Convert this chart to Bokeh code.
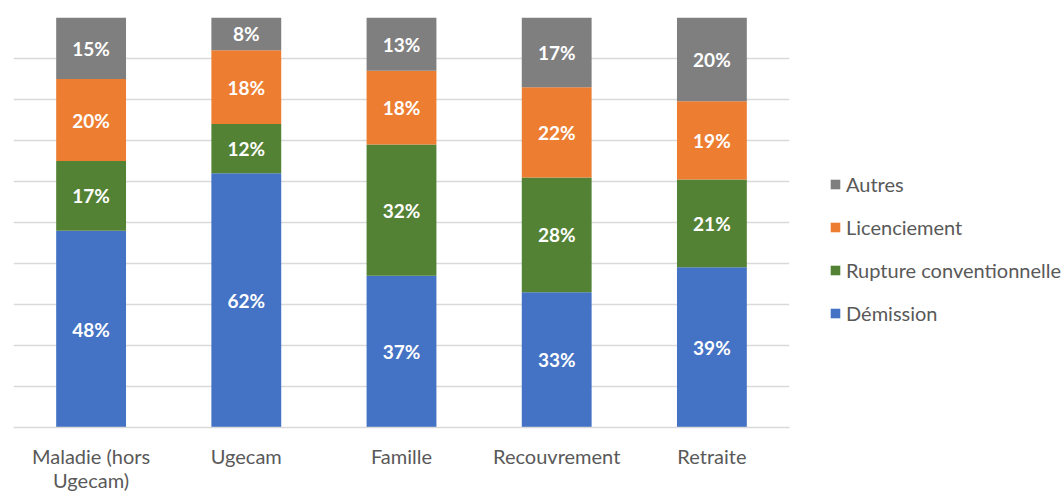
from bokeh.plotting import figure
from bokeh.models import ColumnDataSource, LabelSet, Legend, LegendItem, FactorRange, Range1d, FixedTicker
from bokeh.core.properties import value
from bokeh.embed import file_html
from bokeh.resources import INLINE

categories = ["Maladie (hors\nUgecam)", "Ugecam", "Famille", "Recouvrement", "Retraite"]
demission = [48, 62, 37, 33, 39.1]
rupture = [17, 12, 32, 28, 21.4]
licenciement = [20, 18, 18, 22, 19.1]
autres = [15, 8, 13, 17, 20.4]

series_names = ["Démission", "Rupture conventionnelle", "Licenciement", "Autres"]
series_vals = [demission, rupture, licenciement, autres]
colors = ["#4472C4", "#548235", "#ED7D31", "#7F7F7F"]

FONT = "Lato"
TXT = "#595959"

p = figure(x_range=FactorRange(factors=categories, range_padding=0),
           y_range=Range1d(0, 100), frame_width=776, frame_height=410,
           output_backend="svg", toolbar_location=None,
           min_border_left=13, min_border_right=0, min_border_top=17, min_border_bottom=60)
p.outline_line_color = None
p.yaxis.visible = False
p.xgrid.grid_line_color = None
p.ygrid.ticker = FixedTicker(ticks=list(range(0, 101, 10)))
p.ygrid.grid_line_color = "#D9D9D9"
p.ygrid.grid_line_width = 1.5
p.xaxis.axis_line_color = "#D9D9D9"
p.xaxis.axis_line_width = 1.5
p.xaxis.major_tick_line_color = None
p.xaxis.minor_tick_line_color = None
p.xaxis.major_label_text_font = FONT
p.xaxis.major_label_text_font_size = "20px"
p.xaxis.major_label_text_color = TXT
p.xaxis.major_label_text_line_height = 1.0
p.xaxis.major_label_standoff = 10

data = {"cat": categories}
for name, vals in zip(series_names, series_vals):
    data[name] = vals
src = ColumnDataSource(data)

renderers = p.vbar_stack(series_names, x="cat", width=0.45, color=colors, source=src, line_width=0)

bottom = [0] * len(categories)
for name, vals in zip(series_names, series_vals):
    mids = [b + v / 2 for b, v in zip(bottom, vals)]
    labels = [f"{v:.0f}%" for v in vals]
    lsrc = ColumnDataSource(dict(cat=categories, y=mids, t=labels))
    p.add_layout(LabelSet(x="cat", y="y", text="t", source=lsrc, text_align="center",
                          text_baseline="middle", text_color="white", text_font=value(FONT),
                          text_font_style="bold", text_font_size="19px"))
    bottom = [b + v for b, v in zip(bottom, vals)]

items = [LegendItem(label=n, renderers=[r]) for n, r in zip(series_names, renderers)][::-1]
legend = Legend(items=items, location=(40, 102), orientation="vertical",
                glyph_width=12, glyph_height=12, label_height=24, spacing=19,
                padding=0, margin=18, label_standoff=5, border_line_color=None,
                background_fill_alpha=0, label_text_font=FONT, label_text_font_size="20px",
                label_text_color=TXT)
p.add_layout(legend, "right")

open("out.html", "w").write(file_html(p, INLINE))
